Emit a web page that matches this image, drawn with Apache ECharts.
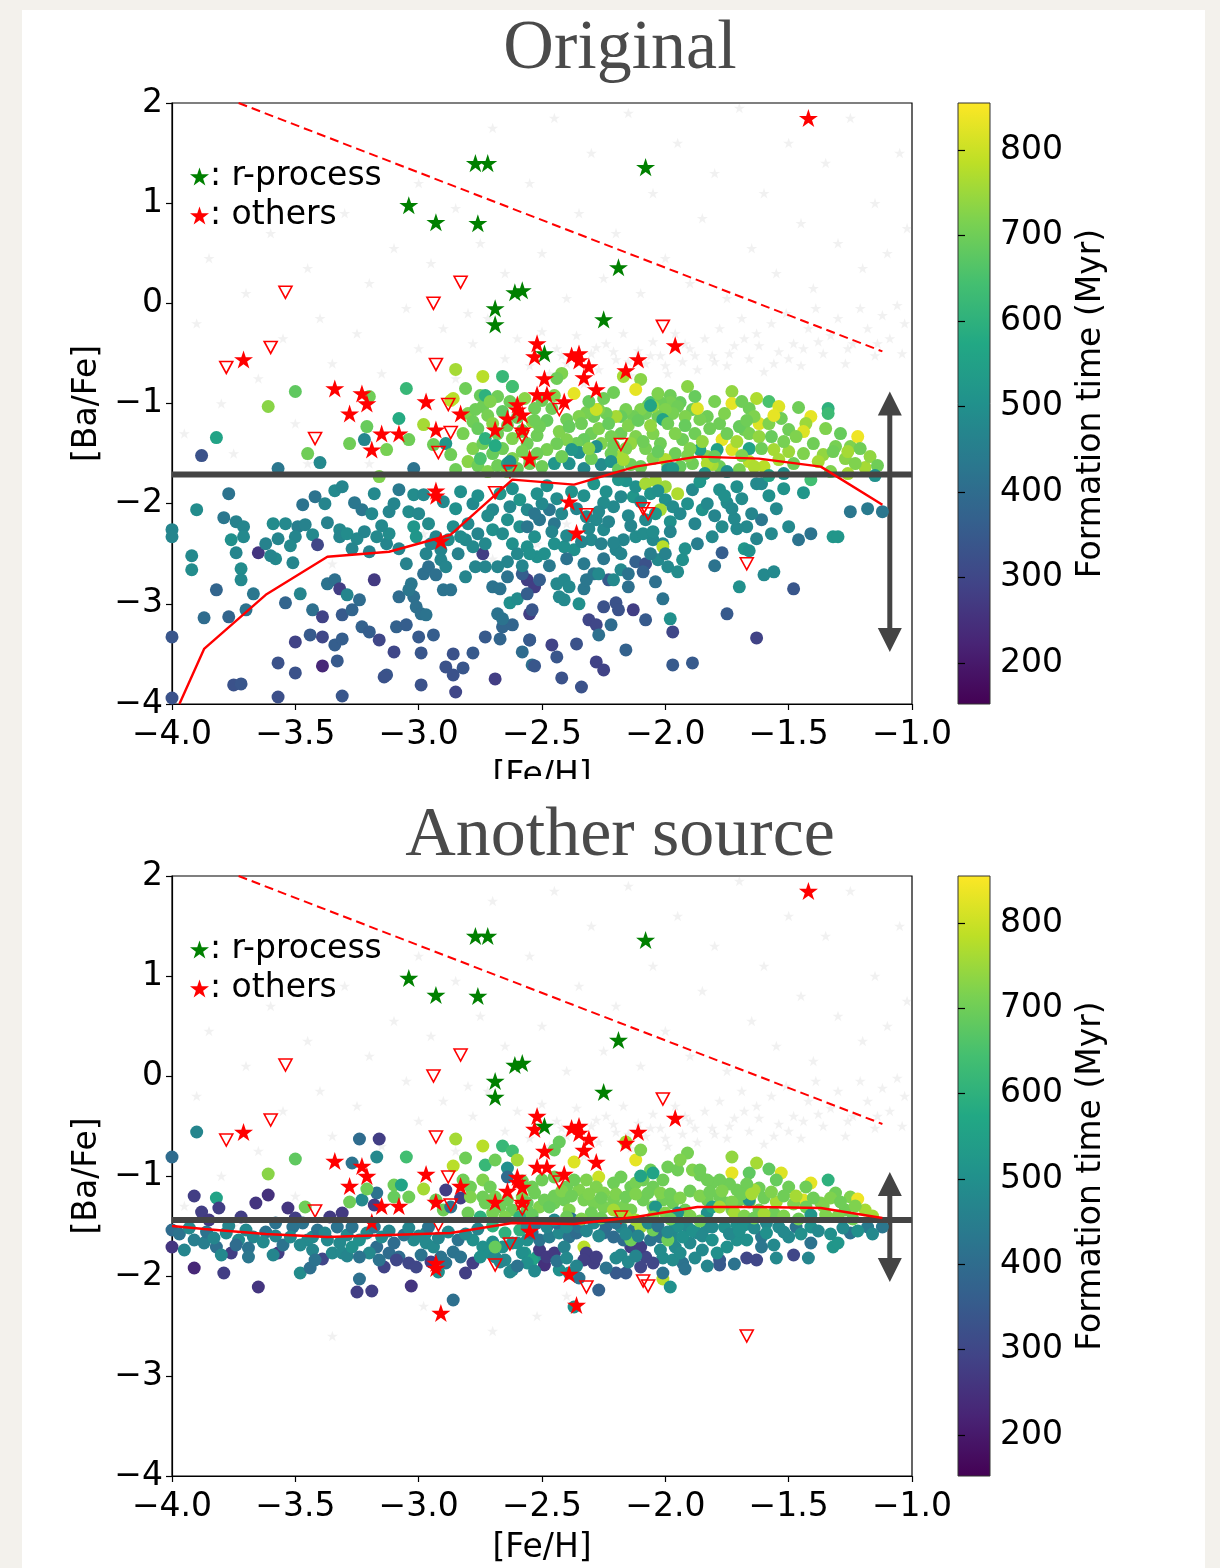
<!DOCTYPE html>
<html>
<head>
<meta charset="utf-8">
<script src="https://cdn.jsdelivr.net/npm/echarts@6/dist/echarts.min.js"></script>
<style>
  html, body { margin: 0; padding: 0; background: #f3f1ec; }
  #card { position: absolute; left: 22px; top: 10px; width: 1183px; height: 1558px; background: #fff; }
  #chart { position: absolute; left: 0; top: 0; width: 1220px; height: 1568px; }
</style>
</head>
<body>
<div id="card"></div>
<div id="chart"></div>
<script>
// ---------- data ----------
const panelTitles = ['Original', 'Another source'];
const timeTicks = [200, 300, 400, 500, 600, 700, 800];
const timeRange = [152, 855];

// simulated stars: [Fe/H], [Ba/Fe], formation time (Myr)
const origModel = [
  [-3.50,-0.88,680],[-3.61,-1.03,730],[-3.82,-1.34,560],[-3.88,-1.52,330],[-3.45,-1.50,700],[-3.40,-1.59,480],[-3.57,-1.65,430],
  [-3.22,-1.36,470],[-3.28,-1.40,700],[-3.21,-1.23,690],[-3.20,-0.93,700],[-3.05,-0.85,620],[-3.08,-1.15,580],[-2.98,-1.21,760],
  [-3.04,-1.36,700],[-3.13,-1.46,710],[-3.02,-1.65,420],[-3.16,-1.73,720],[-2.94,-1.41,700],[-2.89,-1.40,520],[-2.87,-1.51,700],
  [-2.85,-1.66,700],[-2.87,-0.97,780],[-2.81,-0.85,700],[-2.75,-0.92,690],[-2.74,-1.03,700],[-2.68,-0.93,700],[-2.62,-0.83,700],
  [-2.85,-0.66,760],[-2.74,-0.73,780],[-2.66,-0.73,620],[-2.62,-0.83,640],[-2.73,-0.92,600],[-2.86,-0.95,780],
  [-2.80,-1.10,720],[-2.78,-1.18,700],[-2.76,-1.25,690],[-2.72,-1.12,710],[-2.70,-1.20,730],[-2.68,-1.30,700],[-2.66,-1.08,680],
  [-2.64,-1.22,700],[-2.62,-1.35,720],[-2.60,-1.14,690],[-2.58,-1.28,710],[-2.56,-1.40,700],[-2.54,-1.18,740],[-2.52,-1.32,700],
  [-2.82,-1.30,710],[-2.78,-1.45,720],[-2.74,-1.40,700],[-2.70,-1.50,690],[-2.66,-1.45,700],[-2.62,-1.55,720],[-2.58,-1.48,710],
  [-2.55,-1.60,700],[-2.80,-1.58,730],[-2.76,-1.62,700],[-2.72,-1.68,720],[-2.68,-1.62,700],[-2.64,-1.68,730],[-2.60,-1.65,690],
  [-2.75,-1.55,650],[-2.73,-1.35,600],[-2.69,-1.42,580],[-2.64,-1.60,540],[-2.77,-1.06,700],[-2.71,-0.98,720],[-2.63,-0.98,700],
  [-2.57,-0.95,730],[-2.53,-1.05,700],[-2.63,-1.58,500],
  [-3.77,-1.90,420],[-3.90,-2.06,490],[-3.79,-2.14,430],[-3.74,-2.18,460],[-3.71,-2.23,470],[-3.71,-2.33,480],[-3.76,-2.36,500],
  [-4.00,-2.26,470],[-4.00,-2.33,470],[-3.92,-2.52,480],[-3.92,-2.66,490],[-3.74,-2.49,470],[-3.72,-2.65,490],[-3.72,-2.76,480],
  [-3.65,-2.49,260],[-3.62,-2.40,460],[-3.59,-2.20,490],[-3.54,-2.20,480],[-3.58,-2.55,480],[-3.60,-2.52,470],[-3.51,-2.59,470],
  [-3.49,-2.23,450],[-3.46,-2.21,460],[-3.50,-2.33,470],[-3.43,-2.31,480],[-3.47,-2.01,420],[-3.42,-1.93,420],[-3.34,-1.87,480],
  [-3.31,-1.83,470],[-3.37,-2.19,460],[-3.41,-2.41,300],[-3.32,-2.26,480],[-3.32,-2.33,470],[-3.29,-2.30,490],[-3.25,-2.35,480],
  [-3.22,-2.28,470],[-3.17,-2.33,480],[-3.13,-2.40,470],[-3.12,-2.30,490],[-3.26,-1.99,430],[-3.23,-2.06,430],[-3.19,-2.10,480],
  [-3.12,-2.08,470],[-3.08,-1.86,440],[-3.02,-1.91,490],[-2.98,-1.91,480],[-3.04,-2.08,490],
  [-3.82,-2.86,380],[-3.87,-3.14,400],[-3.77,-3.13,380],[-3.70,-3.06,420],[-3.67,-2.90,430],[-3.54,-2.99,380],[-3.48,-2.90,470],
  [-3.43,-3.06,410],[-3.39,-3.13,290],[-3.37,-2.80,420],[-3.34,-2.76,410],[-3.32,-2.85,280],[-3.29,-2.91,470],[-3.31,-3.11,350],
  [-3.24,-2.96,400],[-3.18,-2.76,270],[-3.27,-3.06,380],[-3.23,-3.23,370],[-4.00,-3.33,340],[-3.44,-3.31,350],[-3.39,-3.33,300],
  [-3.34,-3.41,360],[-3.31,-3.35,360],[-3.20,-3.28,360],[-3.16,-3.36,300],[-3.50,-3.38,290],[-3.57,-3.59,330],[-3.50,-3.69,330],
  [-3.39,-3.62,230],[-3.33,-3.57,350],[-3.75,-3.81,330],[-3.72,-3.80,340],[-3.57,-3.93,320],[-3.31,-3.92,340],[-3.28,-4.01,300],
  [-4.00,-3.94,330],[-3.13,-3.71,340],[-3.14,-3.73,330],[-3.10,-3.48,300],[-3.09,-3.23,370],[-3.05,-3.21,360],[-3.08,-2.93,400],
  [-3.02,-2.93,410],[-3.01,-3.03,410],[-2.99,-3.10,410],[-3.00,-3.33,350],[-2.99,-3.49,340],[-2.99,-3.81,330],[-2.94,-3.31,360],
  [-2.97,-3.11,420],[-3.03,-2.80,430],[-3.04,-2.86,430],[-2.98,-2.70,410],[-2.96,-2.63,410],[-2.93,-2.71,410],[-2.91,-2.56,470],
  [-2.89,-2.63,470],[-2.90,-2.86,420],[-2.87,-2.86,420],[-2.86,-3.50,330],[-2.89,-3.63,330],[-2.86,-3.71,330],[-2.85,-3.88,300],
  [-2.82,-3.64,340],[-2.78,-3.49,350],[-2.73,-3.33,350],[-2.69,-3.75,280],[-2.67,-3.35,380],[-2.66,-3.23,380],[-2.62,-3.21,380],
  [-2.68,-3.10,420],[-2.66,-3.15,420],[-2.58,-3.48,400],[-2.54,-3.61,410],[-2.55,-3.36,410],[-2.63,-2.99,500],[-2.60,-2.95,490],
  [-2.81,-2.73,470],[-2.77,-2.63,470],[-2.73,-2.63,470],[-2.70,-2.83,420],[-2.67,-2.85,420],[-2.64,-2.73,420],[-2.56,-2.76,280],
  [-2.53,-2.83,280],[-2.55,-3.10,280],[-2.74,-2.50,280],[-2.81,-2.36,480],[-2.78,-2.43,480],[-2.70,-2.26,500],[-2.64,-2.16,500],
  [-2.59,-2.23,500],[-2.62,-2.40,500],[-2.56,-2.43,500],[-2.53,-2.33,500],[-2.52,-2.53,500],[-2.70,-2.06,480],[-2.63,-2.03,480],
  [-2.59,-1.96,520],[-2.56,-2.06,480],[-2.68,-2.63,470],[-2.64,-2.58,470],[-2.88,-2.36,490],[-2.83,-2.33,490],[-2.86,-2.23,490],
  [-2.97,-2.50,470],[-2.91,-2.46,470],[-2.93,-2.33,470],[-3.01,-2.33,520],[-3.02,-2.23,520],
  [-2.42,-0.70,720],[-2.44,-0.75,700],[-2.37,-0.90,830],[-2.17,-0.73,760],[-2.10,-0.76,730],[-2.12,-0.86,830],[-1.91,-0.83,730],
  [-1.98,-0.92,700],[-1.94,-0.99,690],[-1.98,-0.99,710],[-1.73,-0.88,740],[-1.73,-1.00,830],[-1.63,-0.95,770],[-1.58,-0.98,650],
  [-1.54,-1.03,820],[-1.34,-1.05,600],[-2.06,-0.99,650],[-2.07,-1.02,680],
  [-1.41,-1.13,830],[-1.34,-1.10,630],[-1.43,-1.20,750],[-1.44,-1.28,820],[-1.50,-1.26,700],[-1.56,-1.46,760],[-1.50,-1.48,750],
  [-1.44,-1.50,720],[-1.36,-1.51,740],[-1.31,-1.43,710],[-1.32,-1.48,700],[-1.25,-1.43,720],[-1.27,-1.55,730],[-1.22,-1.33,840],
  [-1.19,-1.64,760],[-1.33,-1.68,720],[-1.41,-1.76,640],[-1.44,-1.89,520],[-1.62,-1.20,820],
  [-1.66,-1.05,700],[-1.64,-1.13,720],[-1.68,-1.26,700],[-1.66,-1.30,710],[-1.62,-1.33,740],[-1.70,-1.23,690],[-1.78,-1.20,700],
  [-1.77,-1.36,830],[-1.73,-1.46,820],[-1.66,-1.45,560],[-1.66,-1.58,780],[-1.60,-1.63,780],[-1.64,-1.63,770],[-1.70,-1.66,710],
  [-1.78,-1.63,700],[-1.81,-1.61,760],[-1.83,-1.53,720],[-1.86,-1.46,560],[-1.79,-1.46,550],[-1.83,-1.13,700],[-1.86,-1.16,710],
  [-1.89,-1.06,700],[-1.92,-1.13,720],[-1.95,-1.03,700],[-1.97,-1.10,710],[-2.02,-0.99,700],[-2.00,-1.06,720],[-2.03,-1.13,700],
  [-2.05,-1.03,740],[-2.08,-1.10,700],[-2.10,-1.06,720],[-2.13,-1.13,700],[-2.16,-1.06,710],[-2.18,-1.13,690],[-2.20,-1.13,760],
  [-2.24,-1.10,700],[-2.27,-1.06,720],[-2.29,-1.13,700],[-2.32,-1.09,710],[-2.35,-1.13,720],[-2.28,-1.06,800],[-2.40,-1.16,700],
  [-2.48,-1.17,690],[-2.51,-1.23,700],[-2.53,-1.17,700],[-2.58,-1.27,690],[-2.01,-1.16,560],[-2.06,-1.02,560],
  [-2.05,-1.30,720],[-2.02,-1.40,700],[-2.08,-1.45,710],[-2.12,-1.33,720],[-2.14,-1.40,740],[-2.18,-1.30,700],[-2.22,-1.33,710],
  [-2.26,-1.40,720],[-2.30,-1.30,700],[-2.33,-1.36,690],[-2.36,-1.40,700],[-2.40,-1.36,720],[-2.44,-1.40,700],[-2.48,-1.46,710],
  [-2.52,-1.50,700],[-2.35,-1.49,500],[-2.38,-1.46,520],[-2.28,-1.43,500],[-1.93,-1.36,700],[-1.90,-1.45,720],[-1.96,-1.50,700],
  [-2.00,-1.56,770],[-1.89,-1.60,700],[-1.94,-1.63,690],[-1.99,-1.63,700],[-1.83,-1.60,770],[-2.16,-1.45,720],[-2.19,-1.53,760],
  [-2.22,-1.50,700],
  [-2.45,-1.60,520],[-2.39,-1.60,500],[-2.33,-1.65,480],[-2.26,-1.61,490],[-2.22,-1.58,510],[-2.14,-1.61,700],[-2.19,-1.66,690],
  [-2.17,-1.56,760],[-1.99,-1.66,500],[-1.97,-1.65,520],[-2.50,-1.63,700],[-2.42,-1.53,700],[-2.10,-1.63,700],[-2.05,-1.55,720],
  [-2.30,-1.55,700],[-2.55,-1.55,710],
  [-2.18,-1.93,480],[-2.13,-1.93,520],[-2.21,-2.03,480],[-2.25,-1.99,490],[-2.12,-1.83,500],[-2.16,-1.77,510],[-2.08,-1.80,760],
  [-2.04,-1.77,760],[-2.00,-1.83,750],[-1.95,-1.90,770],[-2.00,-1.96,500],[-1.97,-2.03,490],[-2.02,-2.06,760],[-1.89,-1.86,480],
  [-1.85,-2.06,510],[-1.78,-1.86,500],[-1.71,-1.83,500],[-1.75,-1.99,490],[-1.63,-1.80,480],[-1.61,-1.80,480],[-1.25,-2.08,430],
  [-1.18,-2.05,440],[-1.12,-2.08,430],[-1.50,-2.23,480],[-1.46,-2.36,420],[-1.41,-2.30,420],[-1.32,-2.33,520],[-1.30,-2.33,520],
  [-1.61,-2.16,430],[-1.67,-2.23,480],[-1.71,-2.25,480],[-1.72,-2.15,480],[-1.77,-2.23,490],[-1.81,-2.33,480],[-1.68,-2.45,520],
  [-1.66,-2.47,500],[-1.77,-2.49,360],[-1.60,-2.71,480],[-1.56,-2.68,480],[-1.70,-2.83,500],[-1.48,-2.85,340],[-1.75,-3.10,350],
  [-1.63,-3.34,290],[-1.89,-3.59,350],[-1.97,-3.61,350],[-1.98,-3.15,500],[-1.97,-3.28,300],[-2.01,-2.95,420],[-2.04,-2.78,410],
  [-2.15,-2.83,410],[-2.08,-3.16,350],[-2.13,-3.06,280],[-2.16,-3.46,370],[-2.22,-3.21,400],[-2.20,-2.99,330],[-2.19,-3.06,330],
  [-2.25,-3.03,330],[-2.31,-3.16,300],[-2.28,-3.21,300],[-2.27,-3.31,410],[-2.28,-3.58,290],[-2.25,-3.66,290],[-2.34,-3.83,330],
  [-2.42,-3.74,330],[-2.36,-3.40,330],[-2.46,-3.41,290],[-2.44,-3.53,340],[-2.53,-3.62,340],[-2.55,-3.36,350],[-2.54,-3.06,340],
  [-2.33,-2.85,430],[-2.32,-2.76,430],[-2.29,-2.70,430],[-2.44,-2.80,480],[-2.41,-2.76,480],[-2.39,-2.83,480],[-2.41,-2.96,480],
  [-2.43,-2.93,480],[-2.35,-3.00,500],[-2.51,-2.76,360],[-2.56,-2.90,360],[-2.58,-2.70,360],[-2.23,-2.76,350],[-2.27,-2.70,480],
  [-2.18,-2.66,480],[-2.21,-2.76,480],[-2.12,-2.58,370],[-2.08,-2.60,330],[-2.09,-2.68,370],[-2.05,-2.36,480],[-2.01,-2.40,480],
  [-2.03,-2.56,480],[-1.99,-2.63,480],[-1.95,-2.68,490],[-1.93,-2.56,500],[-1.92,-2.45,500],[-2.12,-2.33,490],[-2.09,-2.30,490],
  [-2.05,-2.28,490],[-2.20,-2.46,470],[-2.17,-2.36,470],[-2.21,-2.39,470],[-2.30,-2.36,480],[-2.25,-2.26,480],[-2.28,-2.16,480],
  [-2.32,-2.13,480],[-2.45,-2.40,500],[-2.41,-2.43,500],[-2.37,-2.46,500],[-2.49,-2.50,500],[-2.55,-2.50,500],[-2.51,-2.16,430],
  [-2.45,-2.20,430],[-2.47,-2.06,430],[-2.53,-2.10,430],[-2.56,-2.23,430],[-2.01,-2.43,780],[-2.04,-2.10,520],[-1.98,-2.18,500],
  [-2.46,-1.05,700],[-2.43,-1.28,720],[-2.39,-1.23,690],[-2.34,-1.20,700],[-2.31,-1.45,730],[-2.27,-1.25,720],[-2.23,-1.20,690],
  [-2.21,-1.42,700],[-2.15,-1.22,720],[-2.11,-1.17,690],[-2.09,-1.38,700],[-2.06,-1.22,740],[-2.03,-1.48,690],[-1.99,-1.20,700],
  [-1.96,-1.30,720],[-1.92,-1.22,690],[-1.91,-1.52,720],[-1.88,-1.30,700],[-1.85,-1.38,740],[-1.82,-1.25,700],[-1.80,-1.53,690],
  [-1.76,-1.10,720],[-1.75,-1.30,700],[-1.71,-1.38,760],[-1.69,-1.52,720],[-1.67,-1.17,700],[-1.61,-1.45,700],[-1.58,-1.20,720],
  [-1.57,-1.33,690],[-1.54,-1.56,760],[-1.53,-1.15,700],[-1.52,-1.38,710],[-1.48,-1.60,700],[-1.47,-1.33,720],[-1.46,-1.04,700],
  [-1.40,-1.40,700],[-1.38,-1.58,760],[-1.35,-1.25,720],[-1.29,-1.30,690],[-1.26,-1.48,760],[-1.23,-1.60,720],[-1.21,-1.45,700],
  [-1.17,-1.53,740],[-1.14,-1.62,700],[-1.56,-1.12,830],[-1.87,-1.05,820],[-2.25,-0.95,700],[-2.31,-0.98,690],[-2.45,-0.92,720],
  [-2.50,-0.97,700],[-2.21,-0.89,700],[-2.03,-0.90,720],[-1.88,-0.93,690],[-1.80,-0.98,710],[-1.69,-0.98,700],[-1.84,-1.70,520],
  [-1.75,-1.68,500],[-1.52,-1.70,500],[-1.58,-1.72,560],[-1.26,-1.70,760],[-1.15,-1.72,500],
  [-2.48,-1.82,500],[-2.44,-1.95,490],[-2.42,-2.10,480],[-2.38,-1.88,510],[-2.36,-2.05,470],[-2.33,-1.92,500],[-2.31,-2.25,480],
  [-2.29,-1.80,520],[-2.27,-2.08,480],[-2.24,-1.88,500],[-2.23,-2.18,470],[-2.19,-1.76,520],[-2.15,-2.12,480],[-2.14,-2.22,470],
  [-2.10,-1.98,490],[-2.08,-2.16,480],[-2.06,-1.90,510],[-2.03,-1.87,500],[-1.98,-2.28,470],[-1.94,-2.10,480],[-1.91,-2.00,500],
  [-1.88,-2.20,470],[-1.86,-1.78,520],[-1.83,-2.00,480],[-1.80,-2.12,470],[-1.76,-1.92,500],[-1.73,-2.05,480],[-1.69,-1.95,490],
  [-1.65,-2.10,470],[-1.58,-1.92,500],[-1.55,-2.05,480],[-1.52,-1.85,510],[-2.50,-2.00,480],[-2.52,-1.90,500],[-2.46,-2.28,470],
  [-2.40,-2.32,480],[-2.34,-2.38,470],[-2.26,-2.40,460],[-2.18,-2.50,470],[-2.47,-2.62,440],[-2.40,-2.55,420],[-2.33,-2.60,440],
  [-2.25,-2.55,430],[-2.15,-2.70,420],[-2.06,-2.50,450],[-2.00,-2.50,460],[-1.87,-2.40,450],[-1.80,-2.62,420],[-1.63,-2.35,470],
  [-1.57,-2.30,480],
  [-3.27,-2.45,470],[-3.20,-2.48,460],[-3.15,-2.22,480],[-3.08,-2.45,470],[-3.05,-2.60,460],[-2.96,-2.20,490],[-2.95,-2.40,470],
  [-2.84,-2.50,460],[-2.80,-2.20,480],[-2.76,-2.30,470],[-2.73,-2.40,480],[-2.66,-2.30,490],[-2.60,-2.50,480],[-2.58,-2.62,470],
  [-2.85,-2.05,500],[-2.78,-2.00,480],[-2.72,-2.12,490],[-2.76,-1.92,500],[-2.67,-1.90,520],[-2.62,-1.85,500],[-2.90,-1.98,480],
  [-2.83,-1.88,500],[-3.00,-2.10,480],[-3.10,-2.00,470],[-3.18,-1.90,480],[-3.38,-2.00,470],[-3.52,-2.42,480],[-3.57,-2.35,470]
];

const altModel = [
  [-3.90,-0.56,470],[-4.00,-0.81,400],[-3.24,-0.63,400],[-3.16,-0.63,280],[-3.17,-0.81,480],[-3.27,-0.87,420],[-3.50,-0.83,680],
  [-3.61,-0.98,730],[-3.05,-0.81,640],[-2.85,-0.63,760],[-2.74,-0.70,780],[-2.66,-0.70,620],[-2.62,-0.75,640],[-2.81,-0.82,700],
  [-2.73,-0.89,620],[-2.69,-0.84,700],[-2.60,-0.84,760],[-2.86,-0.90,780],[-2.64,-0.92,500],
  [-3.91,-1.20,280],[-3.82,-1.22,560],[-3.88,-1.36,280],[-3.81,-1.32,280],[-3.85,-1.44,270],[-4.00,-1.54,400],[-4.00,-1.71,260],
  [-3.91,-1.64,450],[-3.87,-1.67,450],[-3.82,-1.71,410],[-3.76,-1.77,280],[-3.91,-1.92,230],[-3.79,-1.97,280],[-3.65,-2.11,260],
  [-3.66,-1.27,260],[-3.61,-1.19,250],[-3.72,-1.41,280],[-3.78,-1.57,480],[-3.73,-1.64,480],[-3.67,-1.61,470],[-3.70,-1.54,480],
  [-3.77,-1.50,470],[-3.62,-1.56,420],[-3.58,-1.47,420],[-3.57,-1.77,280],[-3.53,-1.32,260],[-3.50,-1.42,280],[-3.48,-1.97,490],
  [-3.44,-1.92,410],[-3.45,-1.64,480],[-3.48,-1.69,480],[-3.43,-1.61,480],[-3.51,-1.51,420],[-3.47,-1.47,420],[-3.39,-1.83,300],
  [-3.36,-1.41,270],[-3.31,-1.37,270],[-3.33,-1.51,420],[-3.37,-1.64,480],[-3.32,-1.67,480],[-3.35,-1.77,480],[-3.31,-1.77,480],
  [-3.29,-1.80,470],[-3.27,-1.71,500],[-3.24,-1.64,500],[-3.24,-2.03,410],[-3.25,-2.16,280],[-3.19,-2.15,280],[-3.17,-1.17,420],
  [-3.23,-1.24,480],[-3.18,-1.29,280],[-3.21,-1.13,700],[-3.28,-1.26,700],[-3.46,-1.31,700],[-3.10,-1.09,700],[-3.07,-1.09,560],
  [-3.04,-1.21,700],[-2.98,-1.13,760],[-3.10,-1.21,690],[-3.14,-1.91,290],[-3.12,-1.77,400],[-3.08,-1.81,400],[-3.10,-1.67,400],
  [-3.17,-1.71,400],[-3.03,-2.10,260],[-3.09,-1.84,300],[-3.04,-1.87,300],[-3.01,-1.91,300],[-3.02,-1.64,480],[-2.97,-1.67,480],
  [-2.97,-1.57,480],[-2.94,-1.71,480],[-2.91,-1.81,420],[-2.89,-1.87,420],[-2.86,-1.76,420],[-2.83,-1.81,420],[-2.86,-2.24,410],
  [-2.92,-1.96,500],[-2.81,-1.97,280],[-2.78,-1.87,280],[-2.78,-1.64,500],[-2.74,-1.71,500],[-2.71,-1.77,500],[-2.75,-1.81,500],
  [-2.69,-1.81,480],[-2.65,-1.84,480],[-2.62,-1.94,480],[-2.63,-1.96,480],[-2.70,-1.66,500],[-2.66,-1.71,500],[-2.60,-1.67,500],
  [-2.57,-1.77,520],[-2.52,-1.81,520],[-2.89,-1.14,280],[-2.83,-1.22,280],[-2.93,-1.24,700],[-2.90,-1.34,700],[-2.87,-1.31,420],
  [-2.82,-1.04,700],[-2.79,-1.11,700],[-2.74,-1.04,720],[-2.71,-1.11,700],[-2.79,-1.21,720],[-2.74,-1.21,700],[-2.69,-1.21,710],
  [-2.64,-1.24,700],[-2.58,-1.21,720],[-2.64,-1.01,400],[-2.73,-1.27,700],[-2.67,-1.31,700],[-2.62,-1.34,700],[-2.56,-1.34,700],
  [-2.51,-1.31,720],[-2.80,-1.37,700],[-2.75,-1.41,600],[-2.70,-1.37,710],[-2.65,-1.41,720],[-2.59,-1.41,600],[-2.54,-1.39,690],
  [-2.70,-1.50,600],[-2.65,-1.57,600],[-2.59,-1.54,600],[-2.69,-1.71,690],[-2.54,-1.84,560],[-2.62,-1.67,500],[-2.56,-1.64,500],
  [-3.97,-1.58,420],[-3.93,-1.52,480],[-3.86,-1.56,420],[-3.83,-1.62,470],[-3.74,-1.69,400],[-3.69,-1.72,420],[-3.63,-1.66,480],
  [-3.58,-1.60,470],[-3.55,-1.69,420],[-3.52,-1.61,480],[-3.41,-1.54,420],[-3.38,-1.57,470],[-3.29,-1.59,480],[-3.27,-1.51,420],
  [-3.21,-1.57,480],[-3.18,-1.51,420],[-3.15,-1.61,480],[-3.12,-1.55,470],[-3.06,-1.59,420],[-3.04,-1.52,470],[-3.00,-1.60,480],
  [-2.96,-1.51,420],[-2.92,-1.62,470],[-2.88,-1.56,480],[-2.84,-1.64,420],[-2.81,-1.58,480],[-2.76,-1.53,470],[-3.20,-1.77,480],
  [-3.24,-1.81,420],[-3.43,-1.74,470],[-3.59,-1.79,470],[-3.69,-1.81,430],[-3.80,-1.79,480],[-3.95,-1.74,470],[-3.42,-1.84,420],
  [-2.99,-1.79,420],[-2.95,-1.86,280],[-3.16,-1.84,420],
  [-1.91,-0.77,710],[-1.73,-0.81,740],[-1.63,-0.87,760],[-1.73,-0.97,830],[-1.66,-0.97,680],[-1.58,-0.93,680],[-1.53,-0.97,820],
  [-1.55,-1.04,690],[-1.34,-1.04,600],[-1.41,-1.07,830],[-1.43,-1.11,700],[-1.50,-1.11,700],[-1.31,-1.17,700],[-1.25,-1.21,720],
  [-1.22,-1.23,840],[-1.37,-1.27,720],[-1.36,-1.30,720],[-1.44,-1.24,820],[-1.43,-1.31,700],[-1.27,-1.34,700],[-1.19,-1.34,760],
  [-1.35,-1.39,720],[-1.41,-1.39,520],[-1.55,-1.26,760],[-1.56,-1.37,700],[-1.62,-1.34,700],[-1.66,-1.26,720],[-1.70,-1.24,700],
  [-1.73,-1.34,720],[-1.62,-1.12,700],[-1.64,-1.14,760],[-1.67,-1.08,700],[-1.71,-1.14,700],[-1.74,-1.08,700],[-1.78,-1.04,700],
  [-1.81,-1.07,700],[-1.83,-1.04,700],[-1.86,-0.99,700],[-1.66,-1.24,500],[-1.83,-1.37,500],[-1.83,-1.51,480],[-1.81,-1.51,480],
  [-1.76,-1.51,500],[-1.71,-1.49,500],[-1.68,-1.49,500],[-1.59,-1.47,480],[-1.54,-1.51,480],[-1.47,-1.51,420],[-1.41,-1.51,500],
  [-1.25,-1.57,420],[-1.18,-1.51,440],[-1.12,-1.51,430],[-1.50,-1.61,480],[-1.41,-1.67,420],[-1.32,-1.71,520],[-1.30,-1.67,520],
  [-1.48,-1.79,300],[-1.56,-1.69,480],[-1.61,-1.61,430],[-1.61,-1.71,430],[-1.67,-1.82,300],[-1.63,-1.84,300],[-1.78,-1.84,350],
  [-1.78,-1.89,350],[-1.79,-1.77,500],[-1.75,-1.71,500],[-1.71,-1.64,500],[-1.67,-1.64,500],[-1.87,-1.57,480],[-1.91,-1.51,480],
  [-1.90,-1.67,480],[-1.85,-1.74,480],[-1.96,-1.51,480],[-1.97,-1.61,480],[-1.96,-1.71,480],[-1.93,-1.87,420],[-2.01,-1.82,490],
  [-1.97,-1.84,490],[-1.94,-1.77,490],[-2.02,-1.74,490],[-2.08,-1.81,300],[-2.05,-1.87,300],[-2.10,-1.91,300],[-2.01,-2.03,780],
  [-1.98,-2.11,500],[-2.01,-1.97,420],[-2.16,-1.97,350],[-2.20,-1.97,350],[-2.20,-1.82,480],[-2.18,-1.79,480],[-2.14,-1.71,280],
  [-2.10,-1.71,280],[-2.06,-1.64,420],[-2.02,-1.61,420],[-2.27,-2.14,370],[-2.37,-2.31,500],[-2.35,-2.02,420],[-2.43,-1.94,500],
  [-2.39,-1.97,500],[-2.33,-1.71,780],[-2.32,-1.77,280],[-2.29,-1.87,280],[-2.28,-1.81,280],[-2.33,-1.84,280],[-2.49,-1.89,250],
  [-2.58,-1.77,500],[-2.56,-1.87,500],[-2.51,-1.74,270],[-2.48,-1.81,270],[-2.45,-1.77,270],[-2.54,-1.57,400],[-2.51,-1.64,420],
  [-2.47,-1.61,450],[-2.43,-1.57,480],[-2.39,-1.61,420],[-2.36,-1.57,400],[-2.41,-1.71,460],[-2.56,-1.51,480],[-2.52,-1.47,420],
  [-2.48,-1.51,470],[-2.44,-1.47,400],[-2.40,-1.51,480],[-2.35,-1.51,420],[-2.29,-1.47,480],[-2.24,-1.51,400],[-2.18,-1.51,470],
  [-2.13,-1.54,420],[-2.25,-1.57,400],[-2.21,-1.61,400],[-2.17,-1.64,400],[-2.10,-1.51,760],[-2.05,-1.54,700],[-2.14,-1.64,700],
  [-1.99,-1.64,700],[-1.95,-1.50,500],[-1.93,-1.61,500],
  [-2.43,-0.66,690],[-2.45,-0.74,690],[-2.37,-0.86,820],[-2.27,-1.01,800],[-2.12,-0.84,830],[-2.10,-0.74,720],[-2.16,-0.66,760],
  [-2.01,-1.04,700],[-1.99,-0.91,700],[-1.95,-0.94,700],[-1.94,-0.84,720],[-1.89,-0.94,720],[-1.86,-0.94,700],[-2.09,-1.04,700],
  [-2.06,-0.94,700],[-2.05,-1.11,700],[-2.21,-1.07,700],[-2.18,-1.01,700],[-2.14,-1.11,700],[-2.12,-1.07,710],[-2.32,-1.04,720],
  [-2.28,-1.11,720],[-2.25,-1.17,720],[-2.35,-1.14,720],[-2.45,-1.01,700],[-2.40,-1.11,700],[-2.37,-1.04,700],[-2.53,-1.17,700],
  [-2.49,-1.24,700],[-2.45,-1.27,700],[-2.41,-1.24,700],[-2.33,-1.24,710],[-2.29,-1.27,710],[-2.25,-1.31,710],[-2.21,-1.24,710],
  [-2.17,-1.31,710],[-2.14,-1.34,710],[-2.09,-1.24,700],[-2.05,-1.31,700],[-2.01,-1.24,700],[-1.97,-1.27,700],[-1.92,-1.34,700],
  [-1.83,-1.24,700],[-1.78,-1.21,700],[-1.75,-1.27,700],[-1.73,-1.26,720],[-1.81,-1.31,560],[-2.05,-0.97,560],[-2.10,-1.00,560],
  [-2.04,-1.31,520],[-2.21,-1.34,760],[-2.18,-1.41,760],[-2.16,-1.41,760],[-2.05,-1.41,720],[-2.00,-1.37,720],[-1.78,-1.31,760],
  [-1.72,-1.37,760],[-1.95,-1.37,510],[-2.30,-1.37,700],[-2.39,-1.34,720],[-2.47,-1.31,690],[-2.56,-1.27,690],[-2.54,-1.11,700],
  [-2.50,-1.04,700],[-2.58,-1.05,700],
  [-2.45,-1.44,480],[-2.38,-1.43,420],[-2.32,-1.55,470],[-2.27,-1.60,480],[-2.20,-1.47,420],[-2.16,-1.58,480],[-2.11,-1.60,470],
  [-2.07,-1.47,480],[-2.03,-1.50,420],[-1.99,-1.56,480],[-1.89,-1.55,500],[-1.85,-1.60,480],[-1.81,-1.64,500],[-1.74,-1.58,480],
  [-1.70,-1.55,500],[-1.64,-1.52,480],[-1.59,-1.57,500],[-1.52,-1.56,480],[-1.45,-1.58,500],[-1.38,-1.55,480],[-1.33,-1.58,500],
  [-1.28,-1.52,480],[-1.22,-1.55,500],[-1.16,-1.58,480],
  [-2.45,-1.20,700],[-2.42,-1.15,720],[-2.38,-1.20,700],[-2.31,-1.18,720],[-2.26,-1.22,700],[-2.20,-1.18,720],[-2.16,-1.21,700],
  [-2.12,-1.18,720],[-2.07,-1.17,700],[-2.02,-1.17,720],[-1.98,-1.18,700],[-1.94,-1.22,720],[-1.90,-1.15,700],[-1.86,-1.20,720],
  [-1.82,-1.16,700],[-1.77,-1.15,720],[-1.69,-1.18,700],[-1.65,-1.18,760],[-1.60,-1.22,700],[-1.57,-1.16,720],[-1.52,-1.20,700],
  [-1.48,-1.28,720],[-1.47,-1.20,760],[-1.40,-1.22,700],[-1.33,-1.22,720],[-1.29,-1.26,700],[-1.23,-1.30,720],[-1.16,-1.40,760],
  [-2.40,-1.41,700],[-2.34,-1.43,720],[-2.26,-1.42,700],[-2.12,-1.44,760],[-1.98,-1.43,700],[-1.90,-1.40,720],[-1.86,-1.45,700],
  [-1.68,-1.40,720],[-1.64,-1.42,700],[-1.60,-1.38,760],[-1.52,-1.40,720],[-1.46,-1.43,700],[-1.30,-1.40,720],[-1.24,-1.43,700],
  [-2.44,-1.85,420],[-2.40,-1.82,480],[-2.36,-1.90,470],[-2.24,-1.92,420],[-2.15,-1.86,480],[-2.12,-1.80,470],[-1.92,-1.93,420],
  [-1.88,-1.82,480],[-1.83,-1.90,470],[-1.72,-1.88,420],[-1.55,-1.82,480],[-1.42,-1.82,470],[-2.60,-1.90,420],[-2.53,-1.95,480],
  [-2.67,-1.86,470]
];

// observed stars, shared by both panels: [Fe/H], [Ba/Fe]
const rProcessStars = [
  [-2.77,1.40],[-2.72,1.40],[-3.04,0.98],[-2.93,0.81],[-2.76,0.80],[-2.61,0.11],[-2.58,0.13],
  [-2.69,-0.05],[-2.69,-0.21],[-2.08,1.36],[-2.19,0.36],[-2.25,-0.16],[-2.49,-0.50]
];
const otherStars = [
  [-1.42,1.85],[-3.71,-0.56],[-3.34,-0.85],[-3.23,-0.90],[-3.21,-1.00],[-3.28,-1.10],[-2.97,-0.98],[-2.83,-1.10],
  [-3.15,-1.30],[-3.08,-1.30],[-3.19,-1.46],[-2.93,-1.26],[-2.69,-1.26],[-2.64,-1.15],[-2.60,-1.06],[-2.58,-1.11],
  [-2.55,-1.55],[-2.58,-1.26],[-2.93,-1.87],[-2.93,-1.92],[-2.91,-2.37],[-2.52,-0.40],[-2.53,-0.53],[-2.38,-0.52],
  [-2.35,-0.50],[-2.35,-0.57],[-2.31,-0.63],[-2.33,-0.74],[-2.28,-0.86],[-2.49,-0.75],[-2.52,-0.91],[-2.48,-0.91],
  [-2.16,-0.67],[-2.11,-0.56],[-1.96,-0.42],[-2.41,-0.98],[-2.60,-1.01],[-2.39,-1.98],[-2.36,-2.29]
];
const upperLimits = [
  [-3.54,0.11],[-2.94,0.00],[-2.83,0.21],[-3.60,-0.44],[-3.78,-0.64],[-2.93,-0.61],[-2.88,-1.01],[-2.01,-0.23],
  [-3.42,-1.35],[-2.87,-1.29],[-2.92,-1.49],[-2.63,-1.68],[-2.69,-1.89],[-2.58,-1.33],[-2.43,-1.06],[-2.18,-1.41],
  [-2.32,-2.11],[-2.09,-2.05],[-2.07,-2.10],[-1.67,-2.60]
];
// faint background sample
const faintStars = [
  [-2.65,-0.55],[-2.60,-0.35],[-2.55,-0.62],[-2.50,-0.28],[-2.47,-0.70],[-2.44,-0.45],[-2.40,-0.60],[-2.36,-0.32],
  [-2.33,-0.80],[-2.30,-0.50],[-2.27,-0.66],[-2.24,-0.40],[-2.20,-0.56],[-2.17,-0.30],[-2.14,-0.72],[-2.11,-0.47],
  [-2.08,-0.60],[-2.05,-0.38],[-2.02,-0.52],[-1.99,-0.70],[-1.96,-0.30],[-1.93,-0.58],[-1.90,-0.45],[-1.87,-0.66],
  [-1.84,-0.35],[-1.81,-0.52],[-1.78,-0.25],[-1.75,-0.62],[-1.72,-0.42],[-1.69,-0.15],[-1.66,-0.55],[-1.63,-0.30],
  [-1.60,-0.68],[-1.57,-0.20],[-1.54,-0.48],[-1.51,-0.10],[-1.48,-0.40],[-1.45,-0.62],[-1.42,-0.25],[-1.39,-0.05],
  [-1.36,-0.50],[-1.33,-0.32],[-1.30,-0.15],[-1.27,-0.60],[-1.24,-0.40],[-1.21,-0.05],[-1.18,-0.25],[-1.15,-0.52],
  [-1.12,-0.12],[-1.09,-0.35],[-1.06,-0.02],[-1.03,-0.20],
  [-3.60,0.70],[-3.45,0.35],[-3.30,0.90],[-3.20,0.20],[-3.10,0.55],[-3.00,1.20],[-2.95,0.40],[-2.85,0.95],
  [-2.80,-0.10],[-2.75,0.60],[-2.70,1.75],[-2.65,0.30],[-2.55,1.20],[-2.50,0.50],[-2.45,1.85],[-2.40,0.05],
  [-2.35,0.90],[-2.30,1.50],[-2.25,0.25],[-2.20,0.70],[-2.15,1.90],[-2.10,0.10],[-2.05,1.10],[-2.00,0.45],
  [-1.95,1.60],[-1.90,0.20],[-1.85,0.85],[-1.80,1.30],[-1.75,0.05],[-1.70,1.95],[-1.65,0.55],[-1.60,1.10],
  [-1.55,0.30],[-1.50,1.60],[-1.45,0.80],[-1.40,0.15],[-1.35,1.40],[-1.30,0.60],[-1.25,1.85],[-1.20,0.35],
  [-1.15,1.00],[-1.10,0.50],[-1.05,1.50],[-1.02,0.75],
  [-3.90,-0.20],[-3.80,-1.00],[-3.70,0.10],[-3.65,-0.75],[-3.55,-0.35],[-3.50,-1.20],[-3.40,-0.15],[-3.35,-0.60],
  [-3.25,-0.30],[-3.15,-0.70],[-3.05,-0.05],[-3.00,-0.45],[-2.90,-0.25],[-2.85,-0.75],[-2.78,-0.40],[-2.72,-0.15],
  [-3.95,-1.30],[-3.85,0.45],[-3.75,-1.50],[-3.45,-1.60],[-3.20,-1.60],[-2.98,-2.30],[-2.70,-2.55],[-3.35,-2.60],
  [-2.52,-2.40],[-2.40,-2.20],
  [-2.42,-0.52],[-2.28,-0.44],[-2.15,-0.58],[-2.00,-0.62],[-1.88,-0.52],[-1.74,-0.50],[-1.62,-0.42],[-1.50,-0.55],
  [-1.38,-0.38],[-1.26,-0.45],[-1.14,-0.40],[-1.04,-0.50],[-2.35,-0.58],[-2.21,-0.48],[-2.06,-0.52],[-1.92,-0.40],
  [-1.80,-0.58],[-1.68,-0.35],[-1.56,-0.60],[-1.44,-0.45]
];
// upper bound of the observed distribution
const dashedLimit = [[-3.73, 2.00], [-1.12, -0.48]];
// binned medians of the simulated stars
const origMedian = [[-3.97,-4.00],[-3.87,-3.45],[-3.62,-2.91],[-3.37,-2.53],[-3.12,-2.48],[-2.87,-2.31],[-2.62,-1.76],
  [-2.37,-1.81],[-2.12,-1.63],[-1.87,-1.53],[-1.62,-1.55],[-1.37,-1.63],[-1.12,-2.01]];
const altMedian = [[-4.00,-1.50],[-3.87,-1.53],[-3.62,-1.58],[-3.37,-1.61],[-3.12,-1.59],[-2.87,-1.57],[-2.62,-1.47],
  [-2.37,-1.48],[-2.12,-1.41],[-1.87,-1.31],[-1.62,-1.31],[-1.37,-1.32],[-1.12,-1.42]];
// mean level and spread (arrow) of each panel
const origMean = -1.71, altMean = -1.44;
const spreadFeH = -1.09;
const origSpread = [-0.88, -3.48];
const altSpread = [-0.96, -2.06];

// ---------- drawing ----------
const STAR = 'path://M50 0 L61.23 34.55 L97.55 34.55 L68.16 55.9 L79.39 90.45 L50 69.1 L20.61 90.45 L31.84 55.9 L2.45 34.55 L38.77 34.55 Z';
const VIRIDIS = ['#440154','#482475','#414487','#355f8d','#2a788e','#21918c','#22a884','#44bf70','#7ad151','#bddf26','#fde725'];
const FONT = 'DejaVu Sans';
const FS = 33;
const minusSign = s => s.replace('-', '\u2212');

const chart = echarts.init(document.getElementById('chart'), null, { renderer: 'canvas', width: 1220, height: 1568 });

const panels = [
  { top: 103, height: 601, model: origModel, median: origMedian, mean: origMean, spread: origSpread },
  { top: 876, height: 600, model: altModel,  median: altMedian,  mean: altMean,  spread: altSpread }
];

const grids = [], xAxes = [], yAxes = [], series = [], legends = [], modelIdx = [];
const barGradient = new echarts.graphic.LinearGradient(0, 0, 0, 1,
  VIRIDIS.slice().reverse().map((c, i) => ({ offset: i / (VIRIDIS.length - 1), color: c })));

function addGrid(grid, xAxis, yAxis) {
  const gi = grids.length;
  grids.push(grid);
  xAxes.push(Object.assign({ gridIndex: gi }, xAxis));
  yAxes.push(Object.assign({ gridIndex: gi }, yAxis));
  return gi;
}

const axisText = { fontFamily: FONT, fontSize: FS, color: '#000' };

panels.forEach((p) => {
  const i = addGrid(
    { left: 172, top: p.top, width: 740, height: p.height, show: true,
      backgroundColor: '#fff', borderColor: '#000', borderWidth: 1.2 },
    { type: 'value', min: -4, max: -1, interval: 0.5,
      name: '[Fe/H]', nameLocation: 'middle', nameGap: 56, nameTextStyle: axisText,
      axisLine: { show: true, onZero: false, lineStyle: { color: '#000', width: 1.2 } },
      axisTick: { show: true, length: 6, lineStyle: { color: '#000', width: 1.2 } },
      axisLabel: Object.assign({ margin: 15, formatter: v => minusSign(v.toFixed(1)) }, axisText),
      splitLine: { show: false } },
    { type: 'value', min: -4, max: 2, interval: 1,
      name: '[Ba/Fe]', nameLocation: 'middle', nameGap: 68, nameRotate: 90, nameTextStyle: axisText,
      axisLine: { show: true, onZero: false, lineStyle: { color: '#000', width: 1.2 } },
      axisTick: { show: true, length: 6, lineStyle: { color: '#000', width: 1.2 } },
      axisLabel: Object.assign({ margin: 9, formatter: v => minusSign(String(v)) }, axisText),
      splitLine: { show: false } }
  );
  const ax = { xAxisIndex: i, yAxisIndex: i, silent: true };

  series.push(Object.assign({ type: 'scatter', data: faintStars, symbol: STAR, symbolKeepAspect: true,
    symbolSize: 11, itemStyle: { color: '#8a8a8a', opacity: 0.12 } }, ax));
  modelIdx.push(series.length);
  series.push(Object.assign({ type: 'scatter', data: p.model, symbol: 'circle', symbolSize: 13,
    itemStyle: { opacity: 1 } }, ax));
  series.push(Object.assign({ type: 'line', symbol: 'none', data: [[-4, p.mean], [-1, p.mean]],
    lineStyle: { color: '#444', width: 6 } }, ax));
  series.push(Object.assign({ type: 'line', symbol: 'none', data: p.median,
    lineStyle: { color: '#ff0000', width: 2.4 } }, ax));
  series.push(Object.assign({ type: 'line', symbol: 'none', data: dashedLimit,
    lineStyle: { color: '#ff0000', width: 2, type: [9, 5] } }, ax));
  series.push(Object.assign({ type: 'scatter', data: upperLimits, symbol: 'triangle', symbolRotate: 180,
    symbolSize: [13, 12],
    itemStyle: { color: 'rgba(255,255,255,0)', borderColor: '#ff0000', borderWidth: 1.6, opacity: 1 } }, ax));
  series.push(Object.assign({ type: 'scatter', name: 'others', data: otherStars, symbol: STAR,
    symbolKeepAspect: true, symbolSize: 19, itemStyle: { color: '#ff0000', opacity: 1 } }, ax));
  series.push(Object.assign({ type: 'scatter', name: 'r-process', data: rProcessStars, symbol: STAR,
    symbolKeepAspect: true, symbolSize: 19, itemStyle: { color: '#008000', opacity: 1 } }, ax));
  // double-headed arrow marking the spread
  series.push(Object.assign({ type: 'custom', clip: false,
    data: [[spreadFeH, p.spread[0], p.spread[1]]], encode: { x: 0, y: [1, 2] },
    renderItem: (params, api) => {
      const a = api.coord([api.value(0), api.value(1)]);
      const b = api.coord([api.value(0), api.value(2)]);
      const hw = 12, hh = 24;
      return { type: 'group', children: [
        { type: 'line', shape: { x1: a[0], y1: a[1] + hh - 2, x2: b[0], y2: b[1] - hh + 2 },
          style: { stroke: '#444', lineWidth: 5 } },
        { type: 'polygon', shape: { points: [[a[0], a[1]], [a[0] - hw, a[1] + hh], [a[0] + hw, a[1] + hh]] },
          style: { fill: '#444' } },
        { type: 'polygon', shape: { points: [[b[0], b[1]], [b[0] - hw, b[1] - hh], [b[0] + hw, b[1] - hh]] },
          style: { fill: '#444' } }
      ] };
    } }, ax));

  legends.push({ left: 185, top: p.top + 52, orient: 'vertical', itemGap: 6,
    itemWidth: 19, itemHeight: 19, icon: STAR, selectedMode: false,
    data: ['r-process', 'others'], formatter: name => ': ' + name,
    textStyle: { fontFamily: FONT, fontSize: FS, color: '#000', padding: [0, 0, 0, -4] } });
});

// colour bars
panels.forEach((p) => {
  addGrid(
    { left: 958, top: p.top, width: 32, height: p.height, show: true,
      backgroundColor: barGradient, borderColor: '#333', borderWidth: 1 },
    { type: 'value', min: 0, max: 1, show: false },
    { type: 'value', position: 'right', min: timeRange[0], max: timeRange[1],
      name: 'Formation time (Myr)', nameLocation: 'middle', nameGap: 85, nameRotate: 90,
      nameTextStyle: axisText,
      axisLine: { show: false },
      axisTick: { show: true, length: 7, customValues: timeTicks, lineStyle: { color: '#000', width: 1.2 } },
      axisLabel: Object.assign({ margin: 10, customValues: timeTicks }, axisText),
      splitLine: { show: false } }
  );
});

const option = {
  animation: false,
  grid: grids,
  xAxis: xAxes,
  yAxis: yAxes,
  legend: legends,
  visualMap: {
    type: 'continuous', show: false, dimension: 2, seriesIndex: modelIdx,
    min: timeRange[0], max: timeRange[1], inRange: { color: VIRIDIS }
  },
  graphic: [
    { type: 'rect', z: 100, shape: { x: 300, y: 779, width: 520, height: 22 }, style: { fill: '#fff' } },
    { type: 'text', z: 100, x: 620, y: 50, style: { text: panelTitles[0], font: '70px "Liberation Serif"',
      fill: '#4a4a4a', align: 'center', verticalAlign: 'middle' } },
    { type: 'text', z: 100, x: 620, y: 837, style: { text: panelTitles[1], font: '70px "Liberation Serif"',
      fill: '#4a4a4a', align: 'center', verticalAlign: 'middle' } }
  ],
  series: series
};
chart.setOption(option);
</script>
</body>
</html>
